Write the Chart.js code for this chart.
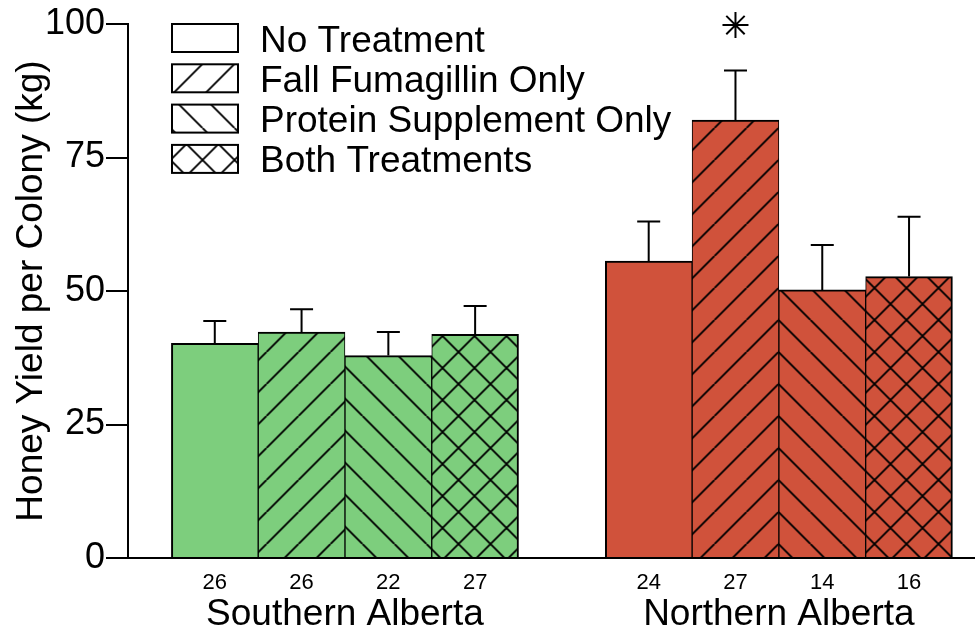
<!DOCTYPE html>
<html>
<head>
<meta charset="utf-8">
<title>Honey Yield per Colony</title>
<script src="https://cdn.jsdelivr.net/npm/chart.js@4/dist/chart.umd.min.js"></script>
<style>
  html, body { margin: 0; padding: 0; background: #ffffff; overflow: hidden; }
  #wrap { width: 975px; height: 629px; }
</style>
</head>
<body>
<div id="wrap"><canvas id="chart" width="975" height="629"></canvas></div>
<script>
// Mean honey yield (kg) per colony, with standard error and colony counts
const regions = ['Southern Alberta', 'Northern Alberta'];
const treatments = ['No Treatment', 'Fall Fumagillin Only', 'Protein Supplement Only', 'Both Treatments'];
const southernMeans = [40.2, 42.3, 37.9, 41.9];
const southernErrors = [4.2, 4.3, 4.4, 5.3];
const southernCounts = [26, 26, 22, 27];
const northernMeans = [55.6, 82.0, 50.2, 52.7];
const northernErrors = [7.4, 9.3, 8.4, 11.2];
const northernCounts = [24, 27, 14, 16];
const yTicks = [0, 25, 50, 75, 100];
const significant = [{ region: 1, treatment: 1 }];

const FONT = "'Liberation Sans', Arial, Helvetica, sans-serif";
const regionColors = ['#7dce7d', '#d0523b'];
const hatchKinds = ['none', 'fwd', 'back', 'cross'];

// Slot on the x axis for a bar: four bars per region, one empty slot between regions
const slotOf = (r, t) => r * (treatments.length + 1) + t;

function makeFill(bg, kind) {
  if (kind === 'none') return bg;
  const s = 32;
  const c = document.createElement('canvas');
  c.width = s; c.height = s;
  const g = c.getContext('2d');
  g.fillStyle = bg;
  g.fillRect(0, 0, s, s);
  g.strokeStyle = '#000';
  g.lineWidth = 1.9;
  g.beginPath();
  for (const k of [-s, 0, s]) {
    if (kind === 'fwd' || kind === 'cross') { g.moveTo(k, s); g.lineTo(k + s, 0); }
    if (kind === 'back' || kind === 'cross') { g.moveTo(k, 0); g.lineTo(k + s, s); }
  }
  g.stroke();
  const p = g.createPattern(c, 'repeat');
  if (p.setTransform) p.setTransform(new DOMMatrix().translate(10.5, 0));
  return p;
}

const fills = regionColors.map(col => hatchKinds.map(k => makeFill(col, k)));
const legendFills = hatchKinds.map(k => makeFill('#ffffff', k));

const means = [southernMeans, northernMeans];
const errors = [southernErrors, northernErrors];
const counts = [southernCounts, northernCounts];

const datasets = treatments.map((name, t) => ({
  label: name,
  data: regions.map((_, r) => ({ x: slotOf(r, t), y: means[r][t] })),
  errors: regions.map((_, r) => errors[r][t]),
  backgroundColor: ctx => fills[ctx.dataIndex][t],
  borderColor: '#000000',
  borderWidth: { top: 2, bottom: 0, left: t === 0 ? 2 : 1, right: t === treatments.length - 1 ? 2 : 1 },
  borderSkipped: false,
  grouped: false,
  barPercentage: 1,
  categoryPercentage: 1
}));

const countTicks = [];
regions.forEach((_, r) => treatments.forEach((_, t) => countTicks.push({ value: slotOf(r, t), label: String(counts[r][t]) })));

// Error bars (upper whisker only), asterisk, region names and legend
const extras = {
  id: 'extras',
  afterDatasetsDraw(chart) {
    const ctx = chart.ctx;
    const ys = chart.scales.y;
    const xs = chart.scales.x;
    ctx.save();
    ctx.strokeStyle = '#000';
    ctx.lineWidth = 2;
    chart.data.datasets.forEach((ds, di) => {
      const meta = chart.getDatasetMeta(di);
      meta.data.forEach((bar, i) => {
        const top = ys.getPixelForValue(ds.data[i].y + ds.errors[i]);
        ctx.beginPath();
        ctx.moveTo(bar.x, bar.y);
        ctx.lineTo(bar.x, top);
        ctx.moveTo(bar.x - 11.5, top);
        ctx.lineTo(bar.x + 11.5, top);
        ctx.stroke();
      });
    });

    // significance asterisk
    significant.forEach(s => {
      const cx = xs.getPixelForValue(slotOf(s.region, s.treatment));
      const cy = ys.getPixelForValue(99.8);
      const r = 13;
      ctx.beginPath();
      for (let a = 0; a < 4; a++) {
        const ang = a * Math.PI / 4;
        ctx.moveTo(cx - r * Math.cos(ang), cy - r * Math.sin(ang));
        ctx.lineTo(cx + r * Math.cos(ang), cy + r * Math.sin(ang));
      }
      ctx.stroke();
    });

    // region names under the counts
    ctx.fillStyle = '#000';
    ctx.font = '37px ' + FONT;
    ctx.textAlign = 'center';
    ctx.textBaseline = 'alphabetic';
    regions.forEach((name, r) => {
      const cx = (xs.getPixelForValue(slotOf(r, 0)) + xs.getPixelForValue(slotOf(r, treatments.length - 1))) / 2;
      ctx.fillText(name, cx, 625);
    });

    // legend
    ctx.textAlign = 'left';
    treatments.forEach((name, t) => {
      const y = 24 + t * 40.3;
      ctx.fillStyle = legendFills[t];
      ctx.fillRect(172, y, 66, 28);
      ctx.lineWidth = 2;
      ctx.strokeRect(172, y, 66, 28);
      ctx.fillStyle = '#000';
      ctx.fillText(name, 260, y + 27.5);
    });
    ctx.restore();
  }
};

new Chart(document.getElementById('chart'), {
  type: 'bar',
  data: { datasets },
  options: {
    responsive: false,
    animation: false,
    devicePixelRatio: 1,
    layout: { padding: { top: 24, right: 0, left: 0, bottom: 0 } },
    plugins: { legend: { display: false }, tooltip: { enabled: false } },
    scales: {
      x: {
        type: 'linear',
        min: -1,
        max: 8.76,
        offset: false,
        afterFit: s => { s.height = 71; },
        afterBuildTicks: s => { s.ticks = countTicks.map(t => ({ value: t.value })); },
        grid: { display: false },
        border: { display: true, color: '#000', width: 2 },
        ticks: {
          autoSkip: false,
          maxRotation: 0,
          padding: 4,
          color: '#000',
          font: { family: FONT, size: 22 },
          callback: v => (countTicks.find(t => t.value === v) || {}).label
        }
      },
      y: {
        min: 0,
        max: 100,
        afterFit: s => { s.width = 128; },
        afterBuildTicks: s => { s.ticks = yTicks.map(v => ({ value: v })); },
        grid: { drawOnChartArea: false, drawTicks: true, tickLength: 22, color: '#000', lineWidth: 2 },
        border: { display: true, color: '#000', width: 2 },
        ticks: { padding: 1, color: '#000', font: { family: FONT, size: 36 } },
        title: {
          display: true,
          text: 'Honey Yield per Colony (kg)',
          color: '#000',
          font: { family: FONT, size: 37 },
          padding: { top: 10, bottom: 0 }
        }
      }
    }
  },
  plugins: [extras]
});
</script>
</body>
</html>
